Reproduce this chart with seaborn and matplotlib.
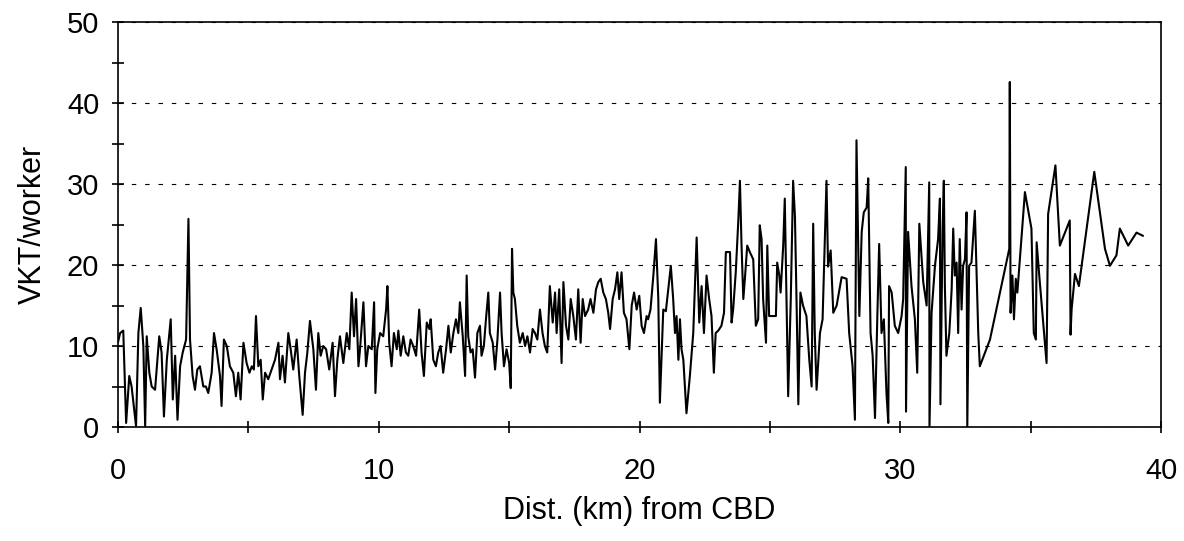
import matplotlib
matplotlib.use("Agg")
import matplotlib.pyplot as plt
import seaborn as sns

# distance from CBD (km) and VKT per worker
dist_inner = [0.0, 0.08, 0.2, 0.31, 0.43, 0.52, 0.69, 0.78, 0.87, 0.97, 1.04, 1.10, 1.20, 1.29, 1.42,
              1.58, 1.67, 1.76, 1.87, 2.02, 2.10, 2.19, 2.28, 2.38, 2.48, 2.61, 2.70, 2.76, 2.86, 2.95,
              3.04, 3.14, 3.27, 3.37, 3.46, 3.59, 3.68, 3.78, 3.91, 3.97, 4.06, 4.17, 4.29, 4.42, 4.52,
              4.61, 4.70, 4.81, 4.93, 5.04, 5.13, 5.21, 5.29, 5.38, 5.47, 5.55, 5.64, 5.76, 5.89, 6.02,
              6.15, 6.21, 6.31, 6.40, 6.53, 6.62, 6.72, 6.85, 6.95, 7.08, 7.17, 7.26, 7.36, 7.49, 7.59,
              7.68, 7.77, 7.87, 7.98, 8.10, 8.23, 8.32, 8.41, 8.51, 8.64, 8.77, 8.87, 8.96, 9.05, 9.13,
              9.22, 9.28, 9.41, 9.51, 9.60, 9.73, 9.82, 9.87, 9.94]
vkt_inner = [10.5, 11.6, 11.9, 0.5, 6.3, 5.0, 0.1, 11.6, 14.7, 10.0, 0.1, 11.2, 6.7, 5.0, 4.6,
             11.2, 9.2, 1.3, 8.3, 13.3, 3.4, 8.8, 0.9, 7.5, 9.2, 10.8, 25.7, 10.8, 6.3, 4.6,
             7.1, 7.5, 5.0, 5.0, 4.2, 6.7, 11.6, 9.6, 6.3, 2.6, 10.8, 10.0, 7.5, 6.7, 3.8,
             6.7, 3.4, 10.4, 7.9, 6.7, 7.5, 7.1, 13.7, 7.5, 8.3, 3.4, 6.7, 5.9, 7.1, 8.3,
             10.4, 5.9, 8.8, 5.5, 11.6, 9.6, 7.1, 10.8, 6.3, 1.5, 6.7, 9.2, 13.1, 9.6, 4.6,
             11.6, 8.8, 10.0, 9.6, 7.1, 10.4, 3.8, 8.3, 11.2, 7.9, 11.6, 9.6, 16.6, 11.2, 15.8,
             7.5, 9.6, 15.4, 7.5, 10.0, 9.6, 15.4, 4.2, 9.6]

dist_middle = [10.05, 10.17, 10.28, 10.33, 10.40, 10.49, 10.58, 10.69, 10.75, 10.84, 10.94, 11.04, 11.13,
               11.22, 11.32, 11.43, 11.55, 11.64, 11.73, 11.84, 11.94, 11.99, 12.09, 12.19, 12.28, 12.37,
               12.47, 12.58, 12.67, 12.76, 12.86, 12.96, 13.05, 13.11, 13.22, 13.31, 13.37, 13.43, 13.52,
               13.60, 13.69, 13.78, 13.88, 13.94, 14.03, 14.11, 14.20, 14.26, 14.37, 14.46, 14.55, 14.65,
               14.71, 14.80, 14.90, 15.00, 15.06, 15.11, 15.16, 15.22, 15.31, 15.41, 15.52, 15.61, 15.70,
               15.80, 15.90, 15.99, 16.08, 16.18, 16.28, 16.37, 16.46, 16.56, 16.67, 16.76, 16.82, 16.92,
               17.01, 17.08, 17.18, 17.27, 17.36, 17.46, 17.56, 17.65, 17.74, 17.82, 17.91, 18.03, 18.12,
               18.23, 18.33, 18.42, 18.51, 18.61, 18.71, 18.80, 18.87, 18.97, 19.06, 19.15, 19.22, 19.31,
               19.40, 19.50, 19.61, 19.70, 19.79, 19.89, 19.99, 20.08, 20.17, 20.27, 20.33, 20.42, 20.53,
               20.63, 20.72, 20.78]
vkt_middle = [11.6, 11.2, 14.5, 17.4, 10.4, 7.5, 11.6, 9.6, 11.9, 8.8, 11.2, 9.2, 8.8,
              10.8, 10.0, 8.8, 14.5, 9.2, 6.3, 12.9, 12.1, 13.3, 8.3, 7.5, 9.2, 10.0,
              6.7, 9.6, 12.5, 9.2, 11.6, 13.3, 11.6, 15.4, 11.2, 6.3, 18.7, 11.2, 9.2,
              9.6, 6.1, 11.6, 12.5, 8.8, 10.0, 13.3, 16.6, 11.6, 10.4, 7.1, 10.8, 16.6,
              11.6, 7.5, 9.6, 7.9, 4.8, 22.0, 16.6, 15.8, 12.5, 10.4, 11.6, 10.0, 11.2,
              9.2, 12.1, 11.6, 10.8, 14.5, 11.6, 10.0, 9.2, 17.4, 12.9, 16.6, 11.6, 17.0,
              7.9, 17.9, 12.5, 10.8, 15.8, 13.7, 10.8, 17.0, 10.4, 15.8, 13.7, 14.5, 15.8,
              14.1, 17.0, 17.9, 18.3, 16.6, 15.8, 14.1, 12.1, 15.8, 17.0, 19.1, 15.8, 19.1,
              14.1, 13.3, 9.6, 15.0, 16.6, 14.5, 16.2, 12.5, 11.6, 13.7, 13.3, 14.5, 18.7,
              23.2, 15.8, 3.0]

dist_outer = [20.91, 21.01, 21.10, 21.20, 21.29, 21.36, 21.42, 21.49, 21.55, 21.61, 21.68, 21.80, 21.93,
              22.06, 22.19, 22.29, 22.38, 22.47, 22.57, 22.67, 22.76, 22.85, 22.92, 23.02, 23.14, 23.24,
              23.31, 23.47, 23.53, 23.59, 23.69, 23.79, 23.85, 23.91, 23.98, 24.04, 24.13, 24.23, 24.36,
              24.46, 24.55, 24.61, 24.68, 24.74, 24.85, 24.90, 24.97, 25.06, 25.23, 25.28, 25.36, 25.41,
              25.51, 25.57, 25.70, 25.80, 25.89, 25.96, 26.02, 26.09, 26.17, 26.27, 26.40, 26.51, 26.60,
              26.66, 26.72, 26.79, 26.92, 27.02, 27.17, 27.23, 27.33, 27.43, 27.56, 27.75, 27.94, 28.04,
              28.17, 28.26, 28.32, 28.43, 28.52, 28.60, 28.71, 28.77, 28.86, 28.94, 29.03, 29.12, 29.19,
              29.28, 29.37, 29.47, 29.54, 29.57, 29.67, 29.79, 29.92, 30.05, 30.11, 30.21, 30.22, 30.30,
              30.43, 30.56, 30.65, 30.73, 30.88, 31.01, 31.11, 31.12]
vkt_outer = [14.5, 14.3, 17.0, 19.9, 15.8, 11.6, 13.7, 8.3, 13.3, 9.6, 8.3, 1.7, 6.3,
             11.6, 23.4, 12.9, 17.4, 11.6, 18.7, 15.8, 13.7, 6.7, 11.6, 11.9, 12.5, 14.1,
             21.6, 21.6, 12.9, 14.5, 19.1, 25.6, 30.4, 22.6, 15.8, 18.3, 22.4, 21.6, 20.7,
             12.5, 13.3, 24.9, 23.2, 15.8, 10.4, 22.4, 13.7, 13.7, 13.7, 20.3, 18.7, 16.6,
             22.4, 28.2, 3.8, 15.8, 30.4, 26.0, 15.8, 2.8, 16.6, 15.0, 13.7, 8.3, 5.0,
             25.1, 11.6, 4.6, 11.6, 13.3, 30.4, 19.8, 21.8, 14.1, 15.0, 18.5, 18.3, 11.6,
             7.5, 0.9, 35.4, 13.7, 24.1, 26.5, 27.1, 30.7, 11.6, 8.8, 1.1, 13.7, 22.6,
             11.6, 13.3, 4.2, 0.5, 17.4, 16.6, 12.5, 11.6, 13.7, 15.8, 32.1, 1.9, 24.1,
             17.4, 13.3, 6.7, 25.1, 17.9, 15.0, 30.2, 0.0]

dist_fringe = [31.20, 31.33, 31.45, 31.52, 31.54, 31.62, 31.67, 31.71, 31.77, 31.88, 31.97, 32.03, 32.09,
               32.16, 32.22, 32.28, 32.35, 32.41, 32.48, 32.54, 32.57, 32.64, 32.73, 32.86, 32.99, 33.05,
               33.44, 34.18, 34.20, 34.23, 34.30, 34.36, 34.43, 34.49, 34.78, 35.03, 35.12, 35.20, 35.23,
               35.33, 35.61, 35.67, 35.95, 36.12, 36.50, 36.53, 36.57, 36.70, 36.85, 37.44, 37.85, 38.04,
               38.29, 38.42, 38.74, 39.06, 39.31]
vkt_fringe = [14.1, 19.9, 23.2, 28.2, 2.8, 24.1, 30.4, 17.4, 8.8, 11.6, 17.0, 24.5, 18.7,
              20.3, 11.6, 23.2, 14.5, 19.9, 20.7, 26.5, 0.0, 19.9, 20.3, 26.7, 11.6, 7.5,
              10.8, 22.0, 42.6, 14.1, 18.7, 13.3, 18.3, 16.6, 29.0, 24.5, 11.6, 10.8, 22.8,
              18.7, 7.9, 26.3, 32.3, 22.4, 25.5, 11.4, 14.5, 18.9, 17.4, 31.5, 22.0, 19.9,
              21.2, 24.5, 22.4, 24.0, 23.6]

dist = dist_inner + dist_middle + dist_outer + dist_fringe
vkt = vkt_inner + vkt_middle + vkt_outer + vkt_fringe

sns.set_theme(style="ticks")
plt.rcParams['font.family'] = ['Liberation Sans', 'DejaVu Sans']
plt.rcParams['text.color'] = 'black'
plt.rcParams['axes.labelcolor'] = 'black'
plt.rcParams['xtick.color'] = 'black'
plt.rcParams['ytick.color'] = 'black'

fig, ax = plt.subplots(figsize=(11.84, 5.41), dpi=100)
fig.subplots_adjust(left=0.0997, right=0.9806, bottom=0.2107, top=0.9593)

sns.lineplot(x=dist, y=vkt, sort=False, estimator=None, color='black', linewidth=1.5, ax=ax)

ax.set_xlim(0, 40)
ax.set_ylim(0, 50)
ax.set_xticks([0, 10, 20, 30, 40])
ax.set_xticks([5, 15, 25, 35], minor=True)
ax.set_yticks([0, 10, 20, 30, 40, 50])
ax.set_yticks([5, 15, 25, 35, 45], minor=True)

ax.grid(axis='y', which='major', color='black', linewidth=0.8, linestyle=(0, (4, 8)))
ax.set_axisbelow(True)

for side in ['top', 'right', 'bottom', 'left']:
    ax.spines[side].set_visible(True)
    ax.spines[side].set_color('black')
    ax.spines[side].set_linewidth(1.2)

ax.tick_params(which='both', direction='inout', length=9, width=1.2, color='black')
ax.tick_params(axis='x', labelsize=21, pad=17, labelcolor='black')
ax.tick_params(axis='y', labelsize=21, pad=9, labelcolor='black')

ax.set_xlabel("Dist. (km) from CBD", fontsize=22, labelpad=8)
ax.set_ylabel("VKT/worker", fontsize=22, labelpad=14)

fig.savefig("out.png", dpi=100)
